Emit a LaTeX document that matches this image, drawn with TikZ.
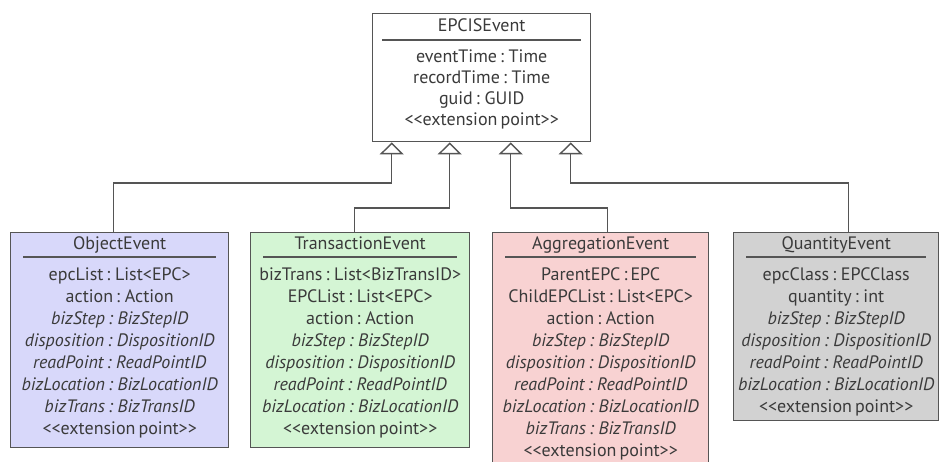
\documentclass[tikz,border=0pt]{standalone}
\usepackage{fontspec}
\setmainfont{PT Sans}
\usetikzlibrary{arrows.meta,calc}
\definecolor{ink}{HTML}{3A3A3A}
\definecolor{edge}{HTML}{555555}
\definecolor{objfill}{HTML}{D8D8FA}
\definecolor{trnfill}{HTML}{D4F5D4}
\definecolor{aggfill}{HTML}{F8D2D2}
\definecolor{qtyfill}{HTML}{D2D2D2}
% attribute text: 18pt with a tight word space around the colons
\newcommand\umlfont{\fontsize{18}{20}\selectfont\spaceskip 0.17em plus 0.05em\relax}
\begin{document}
\begin{tikzpicture}[x=1pt,y=-1pt,
  cls/.style={draw=edge, line width=1.4pt, rectangle, anchor=north west, inner sep=0pt},
  txt/.style={font=\umlfont, text=ink, anchor=base, inner sep=0pt},
  sep/.style={draw=edge, line width=2pt},
  inh/.style={draw=edge, line width=1.4pt,
    -{Triangle[open, width=24pt, length=12pt, line width=1.4pt]}}]
\useasboundingbox (0,0) rectangle (939,462);
\clip (0,0) rectangle (939,462);

% ---- superclass ----
\node[cls, fill=white, minimum width=218pt, minimum height=128pt] (base) at (372,13) {};
\node[txt] (base-t) at ($(base.north)+(0,19)$) {EPCISEvent};
\draw[sep] ($(base.north west)+(10,27)$) -- ($(base.north east)+(-10,27)$);
\foreach \t [count=\i from 0] in {eventTime : Time, recordTime : Time, guid : GUID, <{}<extension point>{}>}
  \node[txt] (base-\i) at ($(base.north)+(0,50+20.7*\i)$) {\t};

% ---- subclasses ----
\node[cls, fill=objfill, minimum width=218pt, minimum height=215pt] (obj) at (10,232) {};
\node[cls, fill=trnfill, minimum width=219pt, minimum height=215pt] (trn) at (250,232) {};
\node[cls, fill=aggfill, minimum width=216pt, minimum height=240pt] (agg) at (492,232) {};
\node[cls, fill=qtyfill, minimum width=205pt, minimum height=188pt] (qty) at (733,232) {};

\foreach \c/\name in {obj/ObjectEvent, trn/TransactionEvent, agg/AggregationEvent, qty/QuantityEvent}{
  \node[txt] (\c-t) at ($(\c.north)+(0,18)$) {\name};
  \draw[sep] ($(\c.north west)+(13,25)$) -- ($(\c.north east)+(-13,25)$);
}

\foreach \t [count=\i from 0] in {epcList : List<EPC>, action : Action,
    \textit{bizStep : BizStepID}, \textit{disposition : DispositionID},
    \textit{readPoint : ReadPointID}, \textit{bizLocation : BizLocationID},
    \textit{bizTrans : BizTransID}, <{}<extension point>{}>}
  \node[txt] (obj-\i) at ($(obj.north)+(0,48+22*\i)$) {\t};

\foreach \t [count=\i from 0] in {bizTrans : List<BizTransID>, EPCList : List<EPC>, action : Action,
    \textit{bizStep : BizStepID}, \textit{disposition : DispositionID},
    \textit{readPoint : ReadPointID}, \textit{bizLocation : BizLocationID}, <{}<extension point>{}>}
  \node[txt] (trn-\i) at ($(trn.north)+(0,48+22*\i)$) {\t};

\foreach \t [count=\i from 0] in {ParentEPC : EPC, ChildEPCList : List<EPC>, action : Action,
    \textit{bizStep : BizStepID}, \textit{disposition : DispositionID},
    \textit{readPoint : ReadPointID}, \textit{bizLocation : BizLocationID},
    \textit{bizTrans : BizTransID}, <{}<extension point>{}>}
  \node[txt] (agg-\i) at ($(agg.north)+(0,48+22*\i)$) {\t};

\foreach \t [count=\i from 0] in {epcClass : EPCClass, quantity : int,
    \textit{bizStep : BizStepID}, \textit{disposition : DispositionID},
    \textit{readPoint : ReadPointID}, \textit{bizLocation : BizLocationID}, <{}<extension point>{}>}
  \node[txt] (qty-\i) at ($(qty.north)+(0,48+22*\i)$) {\t};

% ---- generalisation connectors ----
\coordinate (h1) at ($(base.south)+(-90,0)$);
\coordinate (h2) at ($(base.south)+(-32,0)$);
\coordinate (h3) at ($(base.south)+(29,0)$);
\coordinate (h4) at ($(base.south)+(89,0)$);
\coordinate (o1) at ($(obj.north)+(-6,0)$);
\coordinate (o2) at ($(trn.north)+(-6,0)$);
\coordinate (o3) at ($(agg.north)+(7,0)$);
\coordinate (o4) at ($(qty.north)+(12,0)$);

\draw[inh] (o1) -- (o1 |- 0,183) -- (h1 |- 0,183) -- (h1);
\draw[inh] (o2) -- (o2 |- 0,208) -- (h2 |- 0,208) -- (h2);
\draw[inh] (o3) -- (o3 |- 0,208) -- (h3 |- 0,208) -- (h3);
\draw[inh] (o4) -- (o4 |- 0,183) -- (h4 |- 0,183) -- (h4);
\end{tikzpicture}
\end{document}
